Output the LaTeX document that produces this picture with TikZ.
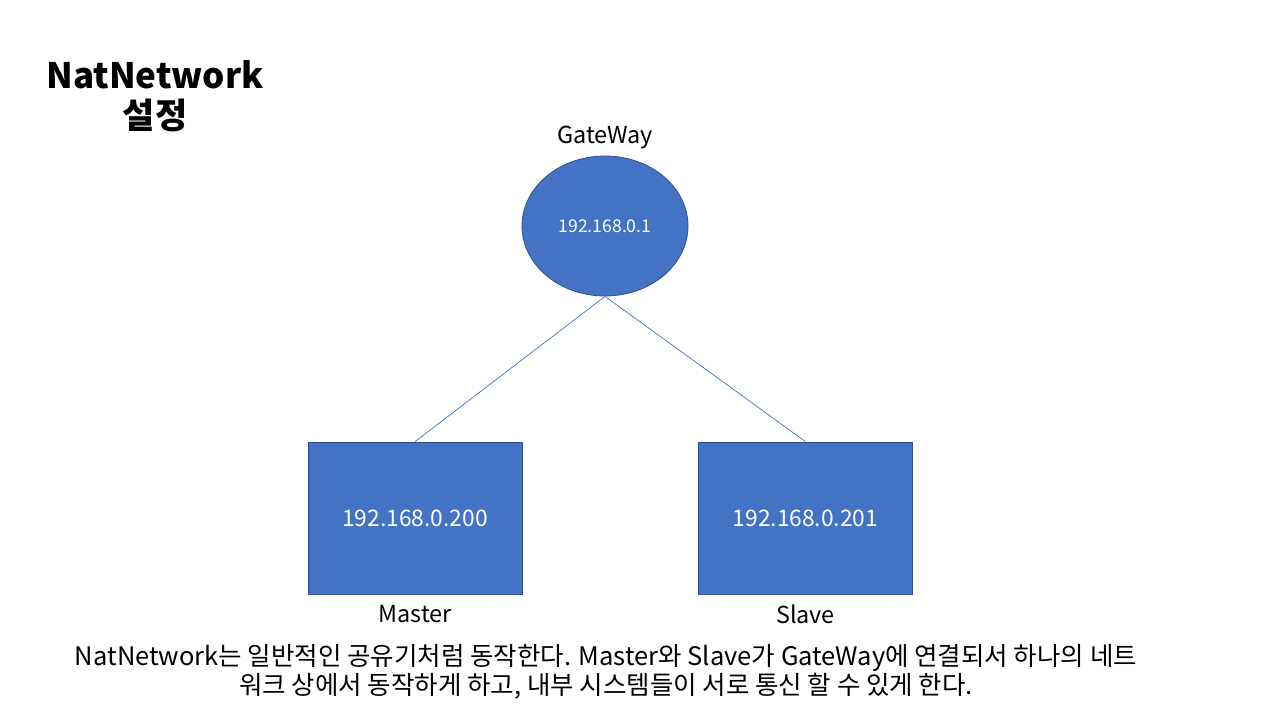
\documentclass[tikz,border=0pt]{standalone}
\usepackage{fontspec}
\setmainfont{Noto Sans CJK KR}
\usetikzlibrary{shapes.geometric}
\definecolor{fillblue}{HTML}{4472C4}
\definecolor{edgeblue}{HTML}{2F528F}
\tikzset{
  hostbox/.style={rectangle, draw=edgeblue, line width=0.8pt, fill=fillblue, minimum width=214pt, minimum height=152pt, text=white, font=\fontsize{22.8}{26}\selectfont, inner sep=0pt},
  gwell/.style={ellipse, draw=edgeblue, line width=0.8pt, fill=fillblue, minimum width=166pt, minimum height=140pt, text=white, font=\fontsize{17.6}{20}\selectfont, inner sep=0pt},
  lbl/.style={font=\fontsize{23.4}{26}\selectfont, inner sep=0pt},
  link/.style={draw=fillblue, line width=0.7pt}
}
\begin{document}
\begin{tikzpicture}[x=1pt,y=-1pt]
\useasboundingbox (0,0) rectangle (1280,720);
\node[font=\fontsize{35}{40}\selectfont\bfseries, align=center, inner sep=0pt] (title) at (155,96) {NatNetwork\\설정};
\node[gwell] (gw) at (605,226) {192.168.0.1};
\node[lbl] (gwl) at (605,138) {GateWay};
\node[hostbox] (m) at (415,518) {192.168.0.200};
\node[hostbox] (s) at (805.5,518) {192.168.0.201};
\node[lbl] (ml) at (415,614) {Master};
\node[lbl] (sl) at (805.5,614) {Slave};
\draw[link] (gw.south) -- (m.north);
\draw[link] (gw.south) -- (s.north);
\node[font=\fontsize{25.5}{27}\selectfont, align=center, inner sep=0pt] (desc) at (606,672) {NatNetwork는 일반적인 공유기처럼 동작한다. Master와 Slave가 GateWay에 연결되서 하나의 네트\\워크 상에서 동작하게 하고, 내부 시스템들이 서로 통신 할 수 있게 한다.};
\end{tikzpicture}
\end{document}
